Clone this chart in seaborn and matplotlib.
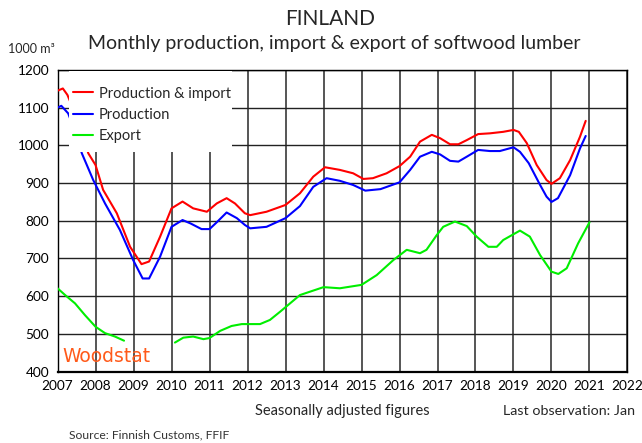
import numpy as np
import pandas as pd
import matplotlib
matplotlib.use("Agg")
import matplotlib.pyplot as plt
from matplotlib.patches import Rectangle
import seaborn as sns

# Production & import (1000 m3), seasonally adjusted
prodimp_year = [2007.0, 2007.14, 2007.26, 2007.4, 2007.6, 2007.81, 2008.0, 2008.2, 2008.56,
                2008.91, 2009.21, 2009.41, 2009.7, 2010.0, 2010.29, 2010.57, 2010.93, 2011.19,
                2011.45, 2011.67, 2011.93, 2012.07, 2012.5, 2013.0, 2013.38, 2013.73, 2014.04,
                2014.43, 2014.78, 2015.05, 2015.3, 2015.66, 2016.0, 2016.28, 2016.54, 2016.85,
                2017.07, 2017.33, 2017.55, 2017.77, 2018.07, 2018.38, 2018.73, 2019.0, 2019.14,
                2019.35, 2019.61, 2019.87, 2020.0, 2020.22, 2020.49, 2020.75, 2020.9]
prodimp_vals = [1145, 1151, 1134, 1100, 1045, 979, 948, 882, 820, 731, 685, 692, 758, 833, 851,
                833, 824, 846, 860, 846, 820, 815, 824, 842, 873, 917, 942, 935, 926, 911, 913,
                926, 945, 970, 1010, 1028, 1019, 1003, 1003, 1014, 1030, 1032, 1036, 1041, 1036,
                1006, 948, 908, 898, 913, 961, 1023, 1065]

# Production
prod_year = [2007.0, 2007.1, 2007.28, 2007.45, 2007.64, 2007.94, 2008.25, 2008.64, 2008.99,
             2009.24, 2009.41, 2009.7, 2010.0, 2010.29, 2010.5, 2010.79, 2011.0, 2011.19, 2011.45,
             2011.72, 2011.93, 2012.07, 2012.5, 2013.0, 2013.38, 2013.73, 2014.08, 2014.43,
             2014.78, 2015.1, 2015.5, 2016.0, 2016.28, 2016.54, 2016.85, 2017.07, 2017.33,
             2017.55, 2017.77, 2018.07, 2018.38, 2018.64, 2019.0, 2019.17, 2019.4, 2019.7,
             2019.87, 2020.0, 2020.17, 2020.49, 2020.75, 2020.9]
prod_vals = [1100, 1105, 1085, 1040, 979, 908, 846, 776, 696, 647, 647, 705, 784, 802, 793, 778,
             778, 796, 822, 807, 789, 780, 784, 807, 839, 890, 913, 906, 895, 880, 884, 902, 935,
             970, 983, 976, 959, 957, 970, 988, 985, 985, 995, 983, 953, 895, 864, 850, 860, 921,
             992, 1025]

# Export (no data shown late 2008 - early 2010)
export_year = [2007.0, 2007.2, 2007.46, 2007.72, 2008.0, 2008.25, 2008.51, 2008.75,
               2010.09, 2010.31, 2010.57, 2010.84, 2011.0, 2011.28, 2011.58, 2011.85, 2012.33,
               2012.59, 2012.86, 2013.38, 2014.0, 2014.43, 2015.0, 2015.4, 2015.84, 2016.19,
               2016.54, 2016.71, 2016.98, 2017.15, 2017.46, 2017.77, 2018.03, 2018.34, 2018.56,
               2018.73, 2019.17, 2019.43, 2019.7, 2020.0, 2020.18, 2020.4, 2020.7, 2021.0]
export_vals = [621, 603, 581, 550, 519, 502, 493, 482,
               477, 490, 493, 486, 489, 508, 521, 526, 526, 537, 559, 603, 624, 621, 630, 656,
               696, 723, 714, 723, 762, 784, 798, 786, 758, 731, 731, 749, 774, 758, 709, 665,
               659, 674, 740, 796]
export_gap_after = 2008.75

year_ticks = list(range(2007, 2023))
value_ticks = list(range(400, 1201, 100))

series_names = ["Production & import", "Production", "Export"]
colors = {"Production & import": "#ff0000", "Production": "#0000ff", "Export": "#00ee00"}

frames = [
    pd.DataFrame({"year": prodimp_year, "value": prodimp_vals,
                  "series": series_names[0], "seg": 0}),
    pd.DataFrame({"year": prod_year, "value": prod_vals,
                  "series": series_names[1], "seg": 1}),
]
exp = pd.DataFrame({"year": export_year, "value": export_vals, "series": series_names[2]})
exp["seg"] = np.where(exp["year"] > export_gap_after, 3, 2)
frames.append(exp)
df = pd.concat(frames, ignore_index=True)

sns.set_style("white")
plt.rcParams["font.family"] = ["Lato", "DejaVu Sans"]

fig = plt.figure(figsize=(6.42, 4.43), dpi=100)
ax = fig.add_axes([0.0896, 0.1612, 0.8878, 0.6808])

sns.lineplot(data=df, x="year", y="value", hue="series", hue_order=series_names,
             units="seg", estimator=None, sort=False, palette=colors,
             linewidth=1.5, ax=ax, zorder=3)

ax.set_xlim(2007, 2022)
ax.set_ylim(400, 1200)
ax.set_xticks(year_ticks)
ax.set_yticks(value_ticks)
ax.set_xticklabels([str(y) for y in year_ticks], fontsize=9.8)
ax.set_yticklabels([str(v) for v in value_ticks], fontsize=9.8)
ax.tick_params(axis="both", direction="out", length=4, width=1, colors="black", pad=2)
ax.grid(True, axis="x", color="#555555", linewidth=1.4)
ax.grid(True, axis="y", color="#222222", linewidth=1.0)
ax.set_axisbelow(True)
for s in ax.spines.values():
    s.set_color("black")
    s.set_linewidth(1.0)
ax.spines["bottom"].set_linewidth(1.6)
ax.set_xlabel("")
ax.set_ylabel("")

# white legend box hides the lines and grid behind it
ax.add_patch(Rectangle((0.020, 0.728), 0.286, 0.269, transform=ax.transAxes,
                       facecolor="white", edgecolor="none", zorder=4))
leg = ax.legend(loc="upper left", bbox_to_anchor=(0.027, 0.945), borderaxespad=0,
                fontsize=10.5, frameon=False, handlelength=1.37,
                handletextpad=0.42, labelspacing=0.5, borderpad=0)
leg.set_zorder(10)

ax.text(2007.12, 441, "Woodstat", color="#ff5a1a", fontsize=13.5,
        family="DejaVu Sans", va="center", ha="left", zorder=6)

fig.text(0.514, 0.958, "FINLAND", ha="center", va="center", fontsize=15)
fig.text(0.521, 0.902, "Monthly production, import & export of softwood lumber",
         ha="center", va="center", fontsize=14)
fig.text(0.013, 0.89, "1000 m³", ha="left", va="center", fontsize=9)
fig.text(0.397, 0.072, "Seasonally adjusted figures", ha="left", va="center", fontsize=10.5)
fig.text(0.989, 0.072, "Last observation: Jan", ha="right", va="center", fontsize=10.3)
fig.text(0.108, 0.018, "Source: Finnish Customs, FFIF", ha="left", va="center",
         fontsize=8.7, color="#333333")

fig.savefig("out.png", dpi=100)
